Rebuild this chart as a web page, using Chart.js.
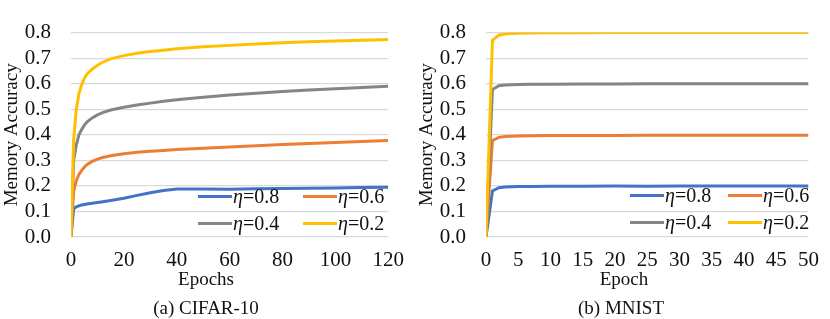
<!DOCTYPE html>
<html>
<head>
<meta charset="utf-8">
<script src="https://cdn.jsdelivr.net/npm/chart.js@4/dist/chart.umd.min.js"></script>
<style>
  body { margin: 0; background: #fff; width: 830px; height: 319px; overflow: hidden;
         font-family: "Liberation Serif", "Times New Roman", serif; color: #111; }
  .panel { position: absolute; top: 0; width: 415px; height: 319px; }
  .panel canvas { position: absolute; left: 0; top: 0; }
  .lbl { position: absolute; left: 0; width: 412px; text-align: center; font-size: 19px; line-height: 22px; }
  .leg { position: absolute; display: flex; align-items: center; height: 22px; font-size: 20px; line-height: 22px; }
  .leg span.ln { display: inline-block; width: 34px; height: 3px; margin-right: 1px; }
</style>
</head>
<body>
<div class="panel" id="p1" style="left:0">
  <canvas id="cifar" width="415" height="319"></canvas>
  <div class="lbl" style="top:268px">Epochs</div>
  <div class="lbl" style="top:297px">(a) CIFAR-10</div>
</div>
<div class="panel" id="p2" style="left:415px">
  <canvas id="mnist" width="415" height="319"></canvas>
  <div class="lbl" style="top:268px;left:3px">Epoch</div>
  <div class="lbl" style="top:297px">(b) MNIST</div>
</div>
<script>
const etas = ["0.8", "0.6", "0.4", "0.2"];
const colors = ["#4472C4", "#ED7D31", "#858585", "#FFC000"];
const yTicks = [0, 0.1, 0.2, 0.3, 0.4, 0.5, 0.6, 0.7, 0.8];

// CIFAR-10
const cifarEpochs = [0, 1, 2, 3, 4, 5, 6, 8, 10, 12, 15, 20, 25, 30, 35, 40, 50, 60, 70, 80, 90, 100, 110, 120];
const cifar08 = [0, 0.11, 0.118, 0.122, 0.125, 0.127, 0.129, 0.132, 0.135, 0.138, 0.143, 0.152, 0.163, 0.173, 0.182, 0.188, 0.188, 0.187, 0.189, 0.19, 0.191, 0.192, 0.194, 0.195];
const cifar06 = [0, 0.18, 0.22, 0.245, 0.26, 0.273, 0.283, 0.296, 0.305, 0.311, 0.318, 0.326, 0.332, 0.336, 0.339, 0.342, 0.347, 0.352, 0.357, 0.362, 0.366, 0.37, 0.374, 0.378];
const cifar04 = [0, 0.3, 0.36, 0.4, 0.42, 0.437, 0.45, 0.466, 0.478, 0.487, 0.497, 0.508, 0.517, 0.524, 0.531, 0.537, 0.547, 0.556, 0.563, 0.569, 0.575, 0.58, 0.585, 0.59];
const cifar02 = [0, 0.38, 0.5, 0.56, 0.595, 0.62, 0.637, 0.657, 0.672, 0.684, 0.697, 0.71, 0.719, 0.726, 0.731, 0.737, 0.745, 0.75, 0.755, 0.76, 0.764, 0.767, 0.77, 0.773];
const cifarTicks = [0, 20, 40, 60, 80, 100, 120];

// MNIST
const mnistEpochs = [0, 1, 2, 3, 4, 5, 7, 10, 15, 20, 25, 30, 35, 40, 45, 50];
const mnist08 = [0, 0.18, 0.193, 0.196, 0.197, 0.198, 0.198, 0.199, 0.199, 0.2, 0.199, 0.2, 0.2, 0.2, 0.2, 0.2];
const mnist06 = [0, 0.378, 0.39, 0.393, 0.394, 0.395, 0.396, 0.397, 0.397, 0.397, 0.398, 0.398, 0.398, 0.398, 0.398, 0.398];
const mnist04 = [0, 0.577, 0.592, 0.595, 0.596, 0.597, 0.598, 0.598, 0.599, 0.599, 0.6, 0.6, 0.6, 0.6, 0.6, 0.6];
const mnist02 = [0, 0.77, 0.79, 0.795, 0.796, 0.797, 0.798, 0.799, 0.799, 0.8, 0.8, 0.8, 0.8, 0.8, 0.8, 0.8];
const mnistTicks = [0, 5, 10, 15, 20, 25, 30, 35, 40, 45, 50];

Chart.defaults.font.family = '"Liberation Serif", "Times New Roman", serif';
Chart.defaults.font.size = 21;
Chart.defaults.color = "#111";

function makeChart(id, epochs, series, ticks, padRight) {
  const datasets = series.map((vals, i) => ({
    label: "η=" + etas[i],
    data: epochs.map((e, j) => ({ x: e, y: vals[j] })),
    borderColor: colors[i],
    backgroundColor: colors[i],
    borderWidth: 3,
    pointRadius: 0,
    tension: 0,
    order: series.length - i   // later series drawn on top
  }));

  return new Chart(document.getElementById(id), {
    type: "line",
    data: { datasets },
    options: {
      responsive: false,
      animation: false,
      layout: { padding: { top: 15, right: padRight, left: 0, bottom: 0 } },
      plugins: { legend: { display: false }, tooltip: { enabled: false } },
      scales: {
        x: {
          type: "linear",
          min: ticks[0],
          max: ticks[ticks.length - 1],
          afterBuildTicks: s => { s.ticks = ticks.map(v => ({ value: v })); },
          afterFit: s => { s.height = 82; },
          grid: { display: false, drawTicks: false },
          border: { display: false },
          ticks: { padding: 11, maxRotation: 0, autoSkip: false }
        },
        y: {
          min: 0,
          max: 0.8,
          afterBuildTicks: s => { s.ticks = yTicks.map(v => ({ value: v })); },
          afterFit: s => { s.width = 71; },
          grid: { color: "#d9d9d9", lineWidth: 1.3, drawTicks: false },
          border: { display: false },
          ticks: { padding: 20, autoSkip: false, callback: v => v.toFixed(1) },
          title: { display: true, text: "Memory Accuracy", padding: { top: 1, bottom: 0 }, font: { size: 19 } }
        }
      }
    }
  });
}

function makeLegend(panelId, x1, x2, y1, y2) {
  const pos = [[x1, y1], [x2, y1], [x1, y2], [x2, y2]];
  const panel = document.getElementById(panelId);
  etas.forEach((eta, i) => {
    const d = document.createElement("div");
    d.className = "leg";
    d.style.left = pos[i][0] + "px";
    d.style.top = (pos[i][1] - 11) + "px";
    d.innerHTML = '<span class="ln" style="background:' + colors[i] + '"></span><i>η</i>=' + eta;
    panel.appendChild(d);
  });
}

makeChart("cifar", cifarEpochs, [cifar08, cifar06, cifar04, cifar02], cifarTicks, 20);
makeChart("mnist", mnistEpochs, [mnist08, mnist06, mnist04, mnist02], mnistTicks, 11);
makeLegend("p1", 198, 303, 196, 223);
makeLegend("p2", 215, 313, 195, 222);
</script>
</body>
</html>
